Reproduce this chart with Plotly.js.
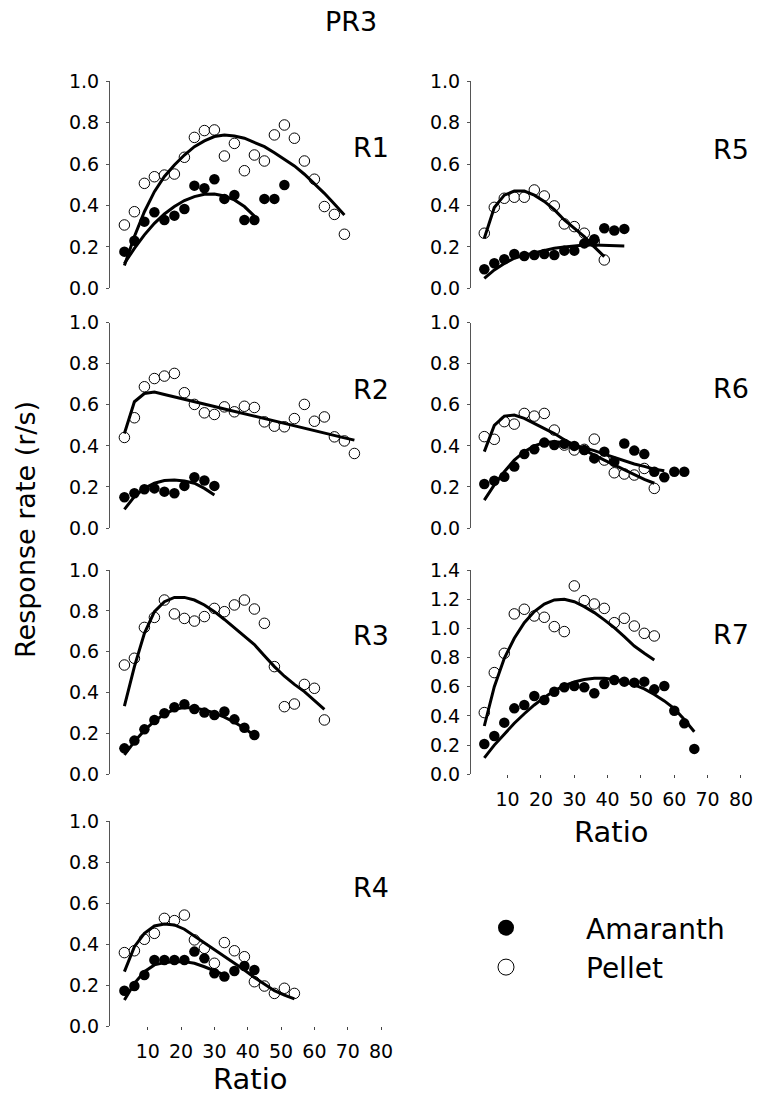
<!DOCTYPE html>
<html><head><meta charset="utf-8">
<script src="https://cdn.plot.ly/plotly-3.0.1.min.js"></script>
<style>html,body{margin:0;padding:0;background:#fff;} #chart{width:757px;height:1097px;}</style>
</head><body><div id="chart"></div>
<script>
// Fixed-ratio steps of the progressive-ratio schedule (x values)
const ratios = [3,6,9,12,15,18,21,24,27,30,33,36,39,42,45,48,51,54,57,60,63,66,69,72];
const xTickVals = [10,20,30,40,50,60,70,80];
const yTicks1 = [0,0.2,0.4,0.6,0.8,1.0];
const yTicks14 = [0,0.2,0.4,0.6,0.8,1.0,1.2,1.4];

// R1
const r1Pellet = [0.306,0.370,0.507,0.539,0.547,0.552,0.633,0.729,0.762,0.765,0.639,0.700,0.568,0.644,0.615,0.741,0.789,0.725,0.615,0.527,0.395,0.357,0.261];
const r1Amaranth = [0.177,0.23,0.322,0.367,0.330,0.351,0.383,0.496,0.483,0.527,0.432,0.451,0.330,0.330,0.432,0.432,0.499];
const r1PelletFit = [0.11,0.25,0.37,0.467,0.54,0.596,0.644,0.684,0.712,0.733,0.741,0.736,0.725,0.705,0.684,0.655,0.625,0.591,0.551,0.507,0.459,0.407,0.354];
const r1AmaranthFit = [0.12,0.193,0.258,0.314,0.359,0.395,0.424,0.443,0.454,0.456,0.446,0.427,0.395,0.349];
// R2
const r2Pellet = [0.441,0.537,0.688,0.728,0.74,0.753,0.659,0.602,0.561,0.553,0.59,0.566,0.593,0.587,0.517,0.496,0.493,0.533,0.602,0.52,0.541,0.444,0.424,0.363];
const r2Amaranth = [0.15,0.169,0.189,0.193,0.177,0.169,0.205,0.247,0.231,0.205];
const r2PelletFit = [0.46,0.615,0.655,0.662,0.650,0.639,0.627,0.615,0.604,0.592,0.580,0.568,0.557,0.545,0.533,0.522,0.510,0.498,0.486,0.474,0.463,0.451,0.439,0.428];
const r2AmaranthFit = [0.091,0.153,0.193,0.218,0.231,0.234,0.229,0.218,0.193,0.161];
// R3
const r3Pellet = [0.535,0.568,0.719,0.768,0.853,0.785,0.763,0.75,0.772,0.812,0.796,0.829,0.853,0.809,0.739,0.527,0.331,0.344,0.44,0.421,0.266];
const r3Amaranth = [0.127,0.165,0.22,0.266,0.299,0.328,0.343,0.32,0.302,0.29,0.307,0.269,0.228,0.192];
const r3PelletFit = [0.334,0.527,0.69,0.796,0.845,0.866,0.866,0.853,0.829,0.796,0.758,0.718,0.677,0.635,0.58,0.527,0.48,0.44,0.405,0.362,0.318];
const r3AmaranthFit = [0.095,0.16,0.215,0.26,0.295,0.318,0.327,0.325,0.315,0.30,0.28,0.255,0.225,0.19];
// R4
const r4Pellet = [0.358,0.367,0.423,0.452,0.525,0.514,0.541,0.42,0.379,0.306,0.407,0.367,0.338,0.216,0.195,0.159,0.184,0.159];
const r4Amaranth = [0.172,0.195,0.249,0.322,0.322,0.322,0.322,0.363,0.33,0.257,0.241,0.268,0.293,0.273];
const r4PelletFit = [0.265,0.387,0.452,0.488,0.498,0.493,0.472,0.439,0.407,0.374,0.341,0.306,0.273,0.237,0.203,0.172,0.151,0.132];
const r4AmaranthFit = [0.127,0.208,0.265,0.298,0.309,0.314,0.314,0.306,0.289,0.27,0.249];
// R5
const r5Pellet = [0.266,0.391,0.435,0.44,0.44,0.475,0.446,0.398,0.311,0.298,0.266,0.225,0.137];
const r5Amaranth = [0.092,0.121,0.14,0.166,0.156,0.161,0.166,0.161,0.182,0.182,0.217,0.237,0.29,0.279,0.287];
const r5PelletFit = [0.242,0.39,0.45,0.47,0.47,0.45,0.42,0.38,0.33,0.29,0.25,0.20,0.153];
const r5AmaranthFit = [0.048,0.089,0.12,0.145,0.16,0.172,0.182,0.193,0.20,0.206,0.209,0.209,0.208,0.206,0.204];
// R6
const r6Pellet = [0.445,0.432,0.518,0.506,0.558,0.545,0.558,0.477,0.404,0.38,0.383,0.433,0.331,0.269,0.263,0.258,0.29,0.193];
const r6Amaranth = [0.214,0.23,0.25,0.299,0.36,0.383,0.416,0.404,0.41,0.40,0.38,0.339,0.372,0.323,0.412,0.377,0.36,0.274,0.247,0.274,0.274];
const r6PelletFit = [0.372,0.50,0.545,0.55,0.534,0.51,0.485,0.46,0.43,0.404,0.38,0.355,0.331,0.307,0.282,0.258,0.237,0.218];
const r6AmaranthFit = [0.136,0.21,0.274,0.331,0.372,0.40,0.416,0.42,0.416,0.404,0.39,0.377,0.36,0.344,0.328,0.312,0.30,0.286,0.279];
// R7
const r7Pellet = [0.423,0.697,0.829,1.099,1.131,1.085,1.076,1.012,0.978,1.291,1.19,1.167,1.137,1.039,1.069,1.016,0.966,0.948];
const r7Amaranth = [0.208,0.263,0.354,0.452,0.475,0.537,0.509,0.566,0.596,0.605,0.596,0.555,0.619,0.646,0.635,0.628,0.635,0.582,0.605,0.436,0.349,0.174];
const r7PelletFit = [0.331,0.60,0.795,0.932,1.039,1.115,1.167,1.195,1.199,1.183,1.149,1.108,1.058,1.005,0.943,0.879,0.829,0.783];
const r7AmaranthFit = [0.113,0.2,0.275,0.35,0.415,0.475,0.527,0.572,0.607,0.633,0.65,0.658,0.658,0.65,0.635,0.613,0.585,0.547,0.503,0.45,0.375,0.292];

const panelNames = ['R1','R2','R3','R4','R5','R6','R7'];
const seriesNames = ['Amaranth','Pellet'];

const FONT = 'DejaVu Sans, Liberation Sans, Arial, sans-serif';
const W = 757, H = 1097;
const xs = a => ratios.slice(0, a.length);

// layout geometry (pixels)
const panels = [
  {p:r1Pellet,a:r1Amaranth,pf:r1PelletFit,af:r1AmaranthFit,col:0,top:81.3,bot:288.3,ymax:1.0,ly:148,xt:false},
  {p:r2Pellet,a:r2Amaranth,pf:r2PelletFit,af:r2AmaranthFit,col:0,top:322.7,bot:528,ymax:1.0,ly:389,xt:false},
  {p:r3Pellet,a:r3Amaranth,pf:r3PelletFit,af:r3AmaranthFit,col:0,top:570,bot:774.3,ymax:1.0,ly:635,xt:false},
  {p:r4Pellet,a:r4Amaranth,pf:r4PelletFit,af:r4AmaranthFit,col:0,top:821,bot:1026,ymax:1.0,ly:887,xt:true},
  {p:r5Pellet,a:r5Amaranth,pf:r5PelletFit,af:r5AmaranthFit,col:1,top:81.3,bot:288.3,ymax:1.0,ly:149,xt:false},
  {p:r6Pellet,a:r6Amaranth,pf:r6PelletFit,af:r6AmaranthFit,col:1,top:322.7,bot:528,ymax:1.0,ly:388,xt:false},
  {p:r7Pellet,a:r7Amaranth,pf:r7PelletFit,af:r7AmaranthFit,col:1,top:570,bot:774.3,ymax:1.4,ly:634,xt:true}
];
const cols = [
  {left:110, right:390, range:[-1.32, 82.68], labelX:351},
  {left:471, right:751, range:[-0.99, 83.01], labelX:711}
];

const traces = [];
const layout = {
  width: W, height: H,
  margin: {l:0, r:0, t:0, b:0},
  paper_bgcolor: '#fff', plot_bgcolor: 'rgba(0,0,0,0)',
  font: {family: FONT, color: '#000'},
  showlegend: true,
  hovermode: false,
  title: {text: 'PR3', x: 351/W, xanchor: 'center', y: 1 - 22/H, yanchor: 'middle',
          font: {family: FONT, size: 27, color: '#000'}},
  legend: {x: 426/W, y: 1 - 903/H, xanchor: 'left', yanchor: 'top',
           font: {family: FONT, size: 28, color: '#000'}, itemwidth: 150,
           bgcolor: 'rgba(0,0,0,0)', borderwidth: 0, tracegroupgap: 0},
  annotations: [
    {text: 'Response rate (r/s)', xref: 'paper', yref: 'paper', x: 25/W, y: 1 - 530/H,
     xanchor: 'center', yanchor: 'middle', textangle: -90, showarrow: false,
     font: {family: FONT, size: 27, color: '#000'}}
  ]
};

panels.forEach((pn, i) => {
  const k = i + 1;
  const xa = 'x' + k, ya = 'y' + k;
  const c = cols[pn.col];
  traces.push({type:'scatter', mode:'markers', x: xs(pn.p), y: pn.p, xaxis: xa, yaxis: ya,
    name: seriesNames[1], showlegend: false, cliponaxis: false,
    marker: {symbol:'circle', size: 10.5, color:'#fff', line:{color:'#000', width:1}}});
  traces.push({type:'scatter', mode:'markers', x: xs(pn.a), y: pn.a, xaxis: xa, yaxis: ya,
    name: seriesNames[0], showlegend: false, cliponaxis: false,
    marker: {symbol:'circle', size: 10.5, color:'#000', line:{color:'#000', width:0}}});
  traces.push({type:'scatter', mode:'lines', x: xs(pn.pf), y: pn.pf, xaxis: xa, yaxis: ya,
    name: seriesNames[1] + ' fit', showlegend: false, cliponaxis: false,
    line: {color:'#000', width: 3}});
  traces.push({type:'scatter', mode:'lines', x: xs(pn.af), y: pn.af, xaxis: xa, yaxis: ya,
    name: seriesNames[0] + ' fit', showlegend: false, cliponaxis: false,
    line: {color:'#000', width: 3}});

  const axKey = k === 1 ? '' : String(k);
  layout['xaxis' + axKey] = {
    domain: [c.left / W, c.right / W], range: c.range, anchor: ya,
    showgrid: false, zeroline: false, showline: false, fixedrange: true,
    visible: pn.xt,
    tickmode: 'array', tickvals: xTickVals, ticks: 'outside', ticklen: 3, tickwidth: 1, tickcolor: '#444',
    tickfont: {family: FONT, size: 19, color: '#000'}, ticklabelstandoff: 5
  };
  layout['yaxis' + axKey] = {
    domain: [1 - pn.bot / H, 1 - pn.top / H], range: [0, pn.ymax], anchor: xa,
    showgrid: false, zeroline: false, showline: true, linecolor: '#555', linewidth: 1,
    fixedrange: true,
    tickmode: 'array', tickvals: pn.ymax > 1 ? yTicks14 : yTicks1, tickformat: '.1f',
    ticks: 'outside', ticklen: 3, tickwidth: 1, tickcolor: '#555',
    tickfont: {family: FONT, size: 19, color: '#000'}, ticklabelstandoff: 3
  };
  layout.annotations.push({text: panelNames[i], xref: 'paper', yref: 'paper',
    x: c.labelX / W, y: 1 - pn.ly / H, xanchor: 'left', yanchor: 'middle', showarrow: false,
    font: {family: FONT, size: 27, color: '#000'}});
  if (pn.xt) {
    const last = (pn.bot > 1000);
    layout.annotations.push({text: 'Ratio', xref: 'paper', yref: 'paper',
      x: (c.left + 140) / W, y: 1 - (pn.bot + (last ? 53 : 58)) / H, xanchor: 'center', yanchor: 'middle', showarrow: false,
      font: {family: FONT, size: 29, color: '#000'}});
  }
});

// legend entries (series keys)
traces.push({type:'scatter', mode:'markers', x:[null], y:[null], xaxis:'x7', yaxis:'y7',
  name: seriesNames[0], showlegend: true, legendrank: 1,
  marker:{symbol:'circle', size: 22, color:'#000', line:{color:'#000', width:0}}});
traces.push({type:'scatter', mode:'markers', x:[null], y:[null], xaxis:'x7', yaxis:'y7',
  name: seriesNames[1], showlegend: true, legendrank: 2,
  marker:{symbol:'circle', size: 22, color:'#fff', line:{color:'#000', width:1}}});

Plotly.newPlot('chart', traces, layout, {staticPlot: true, displayModeBar: false});
</script>
</body></html>
